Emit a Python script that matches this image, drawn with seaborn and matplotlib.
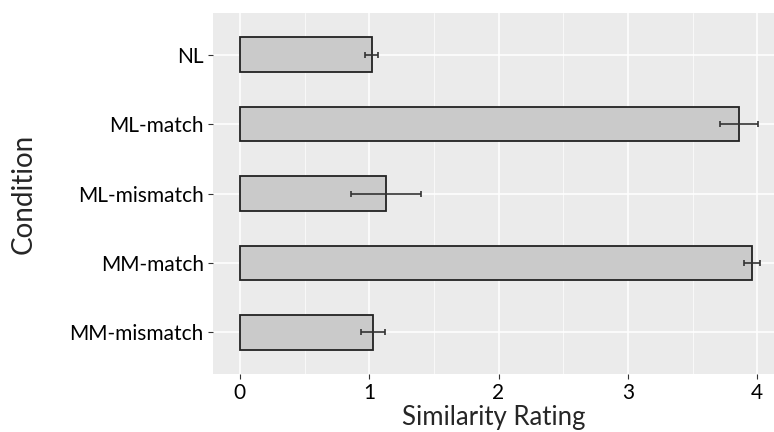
import matplotlib
matplotlib.use("Agg")
import matplotlib.pyplot as plt
import seaborn as sns
import pandas as pd
from matplotlib.ticker import MultipleLocator

conditions = ["NL", "ML-match", "ML-mismatch", "MM-match", "MM-mismatch"]
means = [1.02, 3.86, 1.13, 3.96, 1.03]
errors = [0.05, 0.15, 0.27, 0.06, 0.09]

df = pd.DataFrame({"Condition": conditions, "Rating": means, "err": errors})

sns.set_theme(style="darkgrid")
plt.rcParams["font.family"] = ["Lato", "DejaVu Sans"]

fig = plt.figure(figsize=(7.74, 4.32), dpi=100)
ax = fig.add_axes([0.275, 0.134, 0.725, 0.836])
ax.set_facecolor("#EBEBEB")

sns.barplot(data=df, x="Rating", y="Condition", order=conditions, orient="h",
            width=0.5, color="#CACACA", edgecolor="#222222", linewidth=1.3,
            saturation=1, errorbar=None, ax=ax)
ax.errorbar(df["Rating"], range(len(conditions)), xerr=df["err"], fmt="none",
            ecolor="#333333", elinewidth=1.2, capsize=2.5, capthick=1.2)

ax.set_xlim(-0.209, 4.13)
ax.set_ylim(4.6, -0.6)
ax.xaxis.set_major_locator(MultipleLocator(1))
ax.xaxis.set_minor_locator(MultipleLocator(0.5))
ax.grid(which="major", color="white", linewidth=1.1)
ax.grid(which="minor", axis="x", color="white", linewidth=0.5)
ax.set_axisbelow(True)
for s in ax.spines.values():
    s.set_visible(False)

ax.tick_params(axis="both", which="major", length=3.5, width=0.8, color="#333333",
               labelsize=15, labelcolor="black", pad=3, left=True, bottom=True)
ax.tick_params(axis="x", which="minor", length=0)
ax.set_xlabel("Similarity Rating", fontsize=18.5, labelpad=1)
ax.set_ylabel("Condition", fontsize=20, labelpad=24)

fig.savefig("out.png", dpi=100)
